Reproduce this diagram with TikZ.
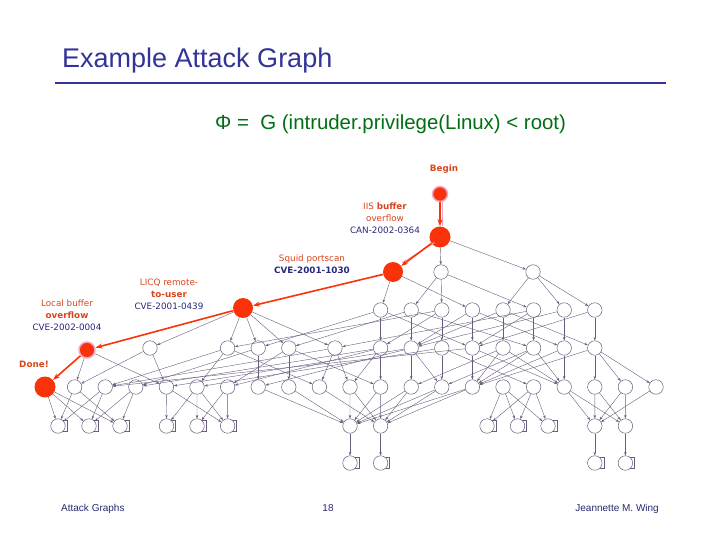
\documentclass[tikz,border=0pt]{standalone}
\usepackage{fontspec}
\setmainfont{Liberation Sans}
\newfontfamily\lblfont{DejaVu Sans}
\usetikzlibrary{arrows.meta}
\definecolor{ttl}{RGB}{51,51,153}
\definecolor{foot}{RGB}{40,40,110}
\definecolor{frm}{RGB}{0,110,20}
\definecolor{rednode}{RGB}{250,50,10}
\definecolor{redtxt}{RGB}{215,70,30}
\definecolor{bluetxt}{RGB}{40,40,125}
\definecolor{edgec}{RGB}{105,92,125}
\definecolor{halo}{RGB}{240,170,200}
\begin{document}
\begin{tikzpicture}[x=1pt,y=-1pt,
  st/.style={circle,draw=edgec,line width=0.5pt,fill=white,minimum size=14.5pt,inner sep=0pt},
  rn/.style={circle,fill=rednode,minimum size=20pt,inner sep=0pt},
  rnh/.style={circle,fill=rednode,draw=halo,line width=1.5pt,minimum size=16pt,inner sep=0pt},
  ed/.style={draw=edgec,line width=0.4pt,-{Stealth[length=3.5pt,width=2.5pt]}},
  redarr/.style={draw=rednode,line width=1.6pt,-{Stealth[length=7pt,width=5pt]}},
  haloln/.style={draw=halo,line width=1pt},
  lbl/.style={font=\lblfont\fontsize{8.8}{12}\selectfont,align=center,inner sep=0pt},
  leafbox/.style={draw=edgec,line width=0.5pt,fill=white}]
\useasboundingbox (0,0) rectangle (720,540);

% title, rule, formula, footer
\node[anchor=base west,inner sep=0pt,text=ttl,font=\fontsize{27}{32}\selectfont] (title) at (62,68) {Example Attack Graph};
\draw[ttl,line width=2.5pt] (55,83) -- (666,83);
\node[anchor=base west,inner sep=0pt,text=frm,font=\fontsize{20.4}{24}\selectfont] (formula) at (215,130) {Φ = \ G (intruder.privilege(Linux) < root)};
\node[anchor=base west,inner sep=0pt,text=foot,font=\fontsize{10}{12}\selectfont] (f1) at (61,511) {Attack Graphs};
\node[anchor=base,inner sep=0pt,text=foot,font=\fontsize{10}{12}\selectfont] (f2) at (328,511) {18};
\node[anchor=base east,inner sep=0pt,text=foot,font=\fontsize{10}{12}\selectfont] (f3) at (659,511) {Jeannette M. Wing};

% plain nodes
\node[st] (r2c13) at (441,272) {};
\node[st] (r2c16) at (533,272) {};
\foreach \c in {11,12,13,14,15,16,17,18} \node[st] (r3c\c) at ({44+30.6*\c},310) {};
\node[st] (r4c3) at (150,348) {};
\node[st] (r4c9) at (335,348) {};
\foreach \c in {6,7,8,11,12,13,14,15,16,17,18} \node[st] (r4c\c) at ({44+30.6*\c},348) {};
\foreach \c in {1,...,20} \node[st] (r5c\c) at ({44+30.6*\c},387) {};
\node[st] (r6c10) at (350,426) {};
\node[st] (r6c11) at (380.6,426) {};
\node[st] (r6c18) at (594.8,426) {};
\node[st] (r6c19) at (625.4,426) {};
% leaves
\foreach \n/\x/\y in {lA/58/426,lB/89/426,lC/120/426,lD/166.5/426,lE/197/426,lF/227.6/426,
  lG/487/426,lH/517.5/426,lI/548/426,lJ/350/463,lK/380.6/463,lL/594.8/463,lM/625.4/463} {
  \draw[leafbox] ({\x+2},{\y-5.5}) rectangle ({\x+9},{\y+5.5});
  \node[st] (\n) at (\x,\y) {};
}

% red nodes
\node[rnh,minimum size=15pt] (Begin) at (440,194) {};
\node[rn,minimum size=21pt] (IIS) at (440,237) {};
\node[rn] (S) at (393,272) {};
\node[rn] (L) at (243,308) {};
\node[rnh] (B) at (87,350) {};
\node[rn,minimum size=21pt] (D) at (45,387) {};

% labels
\node[lbl,text=redtxt] (tBegin) at (444,169) {\textbf{Begin}};
\node[lbl] (tIIS) at (385,218) {\textcolor{redtxt}{IIS \textbf{buffer}}\\\textcolor{redtxt}{overflow}\\\textcolor{bluetxt}{CAN-2002-0364}};
\node[lbl] (tS) at (312,264) {\textcolor{redtxt}{Squid portscan}\\\textcolor{bluetxt}{\textbf{CVE-2001-1030}}};
\node[lbl] (tL) at (169,294.5) {\textcolor{redtxt}{LICQ remote-}\\\textcolor{redtxt}{\textbf{to-user}}\\\textcolor{bluetxt}{CVE-2001-0439}};
\node[lbl] (tB) at (67,315) {\textcolor{redtxt}{Local buffer}\\\textcolor{redtxt}{\textbf{overflow}}\\\textcolor{bluetxt}{CVE-2002-0004}};
\node[lbl,text=redtxt] (tD) at (34,364) {\textbf{Done!}};

% graph edges
\foreach \a/\b in {IIS/r2c13,IIS/r2c16,S/r3c11,S/r3c14,
  r2c13/r3c12,r2c13/r3c13,r2c13/r3c16,r2c16/r3c15,r2c16/r3c17,r2c16/r3c18,
  L/r4c3,L/r4c6,L/r4c7,L/r4c8,L/r4c9,
  r3c11/r4c11,r3c11/r4c14,r3c11/r4c7,
  r3c12/r4c12,r3c12/r4c16,r3c12/r4c8,
  r3c13/r4c13,r3c13/r4c11,r3c13/r4c6,
  r3c14/r4c14,r3c14/r4c12,r3c14/r4c17,
  r3c15/r4c15,r3c15/r4c12,r3c15/r4c18,
  r3c16/r4c16,r3c16/r4c14,r3c16/r4c9,
  r3c17/r4c17,r3c17/r4c12,r3c18/r4c18,r3c18/r4c14,
  B/r5c1,B/r5c4,r4c3/r5c1,r4c3/r5c4,
  r4c6/r5c5,r4c6/r5c2,r4c6/r5c9,
  r4c7/r5c7,r4c7/r5c3,
  r4c8/r5c8,r4c8/r5c6,r4c8/r5c11,
  r4c9/r5c9,r4c9/r5c10,r4c9/r5c2,
  r4c11/r5c11,r4c11/r5c10,r4c11/r5c3,r4c11/r5c6,
  r4c12/r5c13,r4c12/r5c4,r4c12/r5c7,r4c12/r5c12,
  r4c13/r5c13,r4c13/r5c5,r4c13/r5c16,
  r4c14/r5c14,r4c14/r5c2,r4c14/r5c17,
  r4c15/r5c14,r4c15/r5c17,r4c15/r5c12,
  r4c16/r5c14,r4c16/r5c17,r4c16/r5c13,
  r4c17/r5c17,r4c17/r5c14,
  r4c18/r5c18,r4c18/r5c19,r4c18/r5c20,r4c18/r5c14,
  D/lA,D/lB,D/lC,r5c1/lA,r5c1/lC,r5c2/lB,r5c2/lA,r5c3/lC,r5c3/lB,
  r5c4/lD,r5c4/lF,r5c5/lE,r5c5/lD,r5c5/lF,r5c6/lF,r5c6/lE,
  r5c7/r6c10,r5c8/r6c10,r5c9/r6c11,r5c10/r6c10,r5c10/r6c11,
  r5c11/r6c11,r5c11/r6c10,r5c12/r6c10,r5c12/r6c11,r5c13/r6c10,r5c13/r6c11,
  r5c14/r6c10,r5c14/r6c11,
  r5c15/lG,r5c15/lH,r5c15/lI,r5c16/lG,r5c16/lH,r5c16/lI,
  r5c17/r6c18,r5c17/r6c19,r5c18/r6c18,r5c18/r6c19,r5c19/r6c18,r5c19/r6c19,r5c20/r6c18,
  r6c10/lJ,r6c11/lK,r6c18/lL,r6c19/lM}
  \draw[ed] (\a) -- (\b);

% red attack path
\draw[haloln] ([xshift=2.2pt]Begin.south) -- ([xshift=2.2pt]IIS.north);
\draw[redarr] (Begin) -- (IIS);
\draw[haloln] ([xshift=2pt,yshift=2pt]IIS.south west) -- ([xshift=2pt,yshift=2pt]S.north east);
\draw[redarr] (IIS) -- (S);
\draw[redarr] (S) -- (L);
\draw[redarr] (L) -- (B);
\draw[redarr] (B) -- (D);
\end{tikzpicture}
\end{document}
